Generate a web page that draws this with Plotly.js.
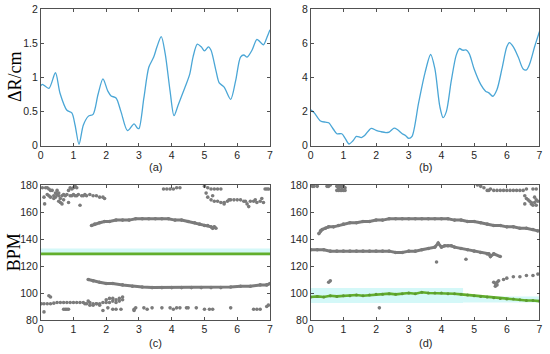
<!DOCTYPE html>
<html><head><meta charset="utf-8">
<script src="https://cdn.plot.ly/plotly-3.0.1.min.js"></script>
<style>html,body{margin:0;padding:0;background:#fff}#c{width:550px;height:354px}</style>
</head><body><div id="c"></div>
<script>
// (a) displacement
const tA = [0,0.05,0.25,0.45,0.59,0.8,0.95,1.05,1.17,1.3,1.45,1.6,1.75,1.9,2.05,2.15,2.3,2.45,2.65,2.85,2.95,3.0,3.15,3.3,3.45,3.55,3.68,3.8,3.95,4.07,4.2,4.4,4.55,4.65,4.78,4.9,5.0,5.12,5.2,5.35,5.45,5.6,5.8,5.95,6.1,6.2,6.3,6.45,6.6,6.7,6.8,6.9,7.0];
const rA = [0.875,0.9,0.84,1.07,0.77,0.52,0.48,0.3,0.02,0.3,0.43,0.46,0.75,0.98,0.8,0.73,0.7,0.5,0.22,0.32,0.26,0.25,0.7,1.15,1.3,1.45,1.6,1.35,0.8,0.44,0.6,0.85,1.05,1.3,1.49,1.45,1.39,1.45,1.4,1.1,0.92,0.86,0.68,0.95,1.3,1.33,1.3,1.4,1.56,1.52,1.48,1.58,1.7];
// (b) displacement
const tB = [0,0.1,0.3,0.45,0.55,0.7,0.8,0.95,1.05,1.17,1.3,1.4,1.55,1.65,1.85,2.0,2.15,2.3,2.4,2.55,2.65,2.8,2.9,3.0,3.1,3.3,3.5,3.67,3.8,3.95,4.05,4.15,4.3,4.45,4.55,4.65,4.75,4.85,5.0,5.2,5.35,5.45,5.57,5.7,5.85,6.0,6.08,6.2,6.35,6.5,6.6,6.7,6.85,7.0];
const rB = [2.1,1.95,1.45,1.38,1.35,0.95,0.7,0.7,0.45,0.1,0.3,0.55,0.48,0.6,1.02,0.9,0.82,0.77,0.8,1.03,0.95,0.7,0.6,0.43,0.55,2.5,4.3,5.35,4.5,2.3,1.65,2.0,3.8,5.3,5.7,5.6,5.62,5.4,4.5,3.6,3.2,3.1,2.9,3.3,4.5,5.8,6.05,5.8,5.2,4.5,4.45,4.8,5.8,6.7];

// (c) candidate heart-rate points
const cT = [0.05,0.1,0.12,0.2,0.25,0.3,0.35,0.4,0.45,0.5,0.55,0.6,0.55,0.6,0.65,0.7,0.7,0.75,0.8,0.85,0.9,0.95,1.0,1.05,1.1,0.9,0.95,1.0,1.05,1.1,1.15,1.2,1.25,1.3,1.35,1.4,1.5,1.6,1.7,1.8,1.9,1.95,0.85,0.4,0.45,0.5,0.55,0.65,0.3,0.25,0.2,0.15,
 3.75,3.85,3.95,4.05,4.15,4.25,
 5.0,5.1,5.2,5.3,5.4,5.5,5.05,5.1,5.2,5.3,5.4,5.5,5.6,5.6,5.7,5.8,5.9,6.0,6.1,6.2,6.3,6.35,6.4,6.5,6.6,6.7,6.75,6.8,6.85,6.9,6.95,5.25,5.75,6.25,6.55,
 0.02,0.1,0.2,0.3,0.4,0.5,0.6,0.7,0.8,0.9,1.0,1.1,1.2,1.3,1.4,1.5,1.6,1.7,1.8,1.9,2.0,2.1,2.2,2.3,2.4,2.5,2.2,2.0,2.1,2.3,2.4,2.5,1.5,1.6,1.7,1.8,0.25,0.3,0.1,0.7,0.75,0.8,0.85,1.9,2.05,2.2,2.3,2.45,1.45,1.35,
 2.85,2.9,3.15,3.25,3.4,3.7,3.95,4.05,4.15,4.25,4.45,4.5,4.75,5.0,5.15,5.25,5.8,6.5,6.6,6.7,6.9,6.95,2.85];
const cBPM = [178,171,166,178,177,176,176,172,171,173,174,170,168,167,166,169,173,172,173,176,178,177,178,179,178,172,172,173,172,172,173,165,172,172,173,172,173,172,172,171,171,170,167,170,174,176,172,172,171,172,173,178,
 177,177,177,177,178,178,
 179,178,177,177,177,177,174,171,169,168,168,167,167,166,168,169,169,169,169,168,166,164,168,168,167,168,170,167,177,177,177,172,169,168,169,
 92,92,92,92,92.5,93,93,93,93,93,93,93,93,93,92,93,92,92,92,93,93,93,94,95,96,97,96,95,96,93,94,95,91,91,92,91,98,97,86,88,88,88,88,87,89,88,88,88,94,92,
 88,89,89,88,89,89,89,88,89,89,89,89,89,88,88,88,89,88,88,88,90,91,87];
const cArcHiT = [1.55,1.65,1.8,1.95,2.1,2.3,2.5,2.7,2.9,3.1,3.3,3.5,3.7,3.9,4.1,4.3,4.5,4.7,4.85,5.0,5.1,5.2,5.25,5.3,5.35];
const cArcHi = [150,151,152,153,153,154,154,154,155,155,155,155,155,155,154,154,153,152,151,150,150,149,148,149,148];
const cArcLoT = [1.45,1.6,1.8,2.0,2.2,2.5,2.8,3.1,3.4,3.7,4.0,4.3,4.6,4.9,5.2,5.5,5.8,6.1,6.4,6.7,6.9,7.0];
const cArcLo = [110,109,108,107,107,106,105,104.5,104,104,104,104,104,104,104,104,104.5,105,105,106,106,107];
const cTrackT = [0,0.5,1,1.5,2,2.5,3,3.5,4,4.5,5,5.5,6,6.5,7];
const cTrack = [129,129,129,129.2,128.8,129,128.9,129,128.8,129,129.2,129,129.1,129,129];
const cBand = [128, 133];

// (d) candidate heart-rate points
const dT = [0.0,0.05,0.1,0.2,0.5,0.55,0.6,0.8,0.85,0.9,0.95,1.0,1.05,0.8,0.85,0.9,0.95,1.0,1.05,0.85,0.95,
 5.1,5.2,5.3,5.4,5.45,5.5,5.6,5.7,5.8,5.9,6.0,6.1,6.2,6.3,6.4,6.5,6.6,6.8,6.9,6.55,6.6,6.65,6.7,6.75,6.8,6.85,6.9,6.95,6.85,6.55,6.75,6.9,
 3.85,4.75,0.55,0.6,2.1,
 5.65,5.65,5.7,5.7,5.75,5.9,6.0,6.2,6.4,6.6,6.8,6.95,5.6];
const dBPM = [180,179,179,179,179,179,180,179,180,179,180,179,178,176,176,176,176,176,176,178,178,
 180,179,178,176,176,177,176,176,176,176,176,176,176,176,176,176,177,177,177,172,170,169,168,166,165,167,169,168,171,166,167,165,
 123,125,108,109,89,
 105,107,108,106,109,110,111,112,112,113,113,114,108];
const dArcHiT = [0.25,0.3,0.35,0.45,0.55,0.7,0.85,1.0,1.2,1.4,1.6,1.8,2.0,2.2,2.4,2.6,2.8,3.0,3.2,3.4,3.6,3.8,4.0,4.2,4.4,4.6,4.8,5.0,5.2,5.4,5.6,5.8,6.0,6.2,6.4,6.6,6.8,6.95];
const dArcHi = [144,146,147,148,149,149,150,151,152,152,153,153,154,154,155,155,155,155,155,155,155,155,155,155,154,154,153,153,152,151,150,150,149,149,148,148,147,146];
const dArcMidT = [0.0,0.2,0.4,0.6,0.8,1.0,1.2,1.4,1.6,1.8,2.0,2.2,2.4,2.6,2.8,3.0,3.2,3.4,3.6,3.8,3.9,4.0,4.1,4.2,4.3,4.4,4.6,4.8,5.0,5.2,5.4,5.45,5.5,5.6,5.8];
const dArcMid = [132,132,132,131,131,131,131,131,131,131,131,131,131,130,130,131,131,132,133,134,137,134,135,135,135,134,133,132,131,130,129,129,127,129,127];
const dTrackT = [0,0.2,0.4,0.6,0.8,1.0,1.2,1.4,1.6,1.8,2.0,2.2,2.4,2.6,2.8,3.0,3.2,3.4,3.6,3.8,4.0,4.2,4.4,4.6,4.8,5.0,5.2,5.4,5.6,5.8,6.0,6.2,6.4,6.6,6.8,7.0];
const dTrack = [97,97.5,97,98,97.5,98,98,98.5,98,98.5,99,99,99.5,99,99.5,100,99.5,100.5,100,100,100,99.5,99.5,99,98.5,98,97.5,97,96.5,96,95.5,95.5,95,94.5,94.5,94];
const dBandT = [-0.2, 4.66, 7.2];
const dBandLo = [92.6, 93];
const dBandHi = [103.7, 97.5];

const xTicks = [0,1,2,3,4,5,6,7];

const grey = '#7b7b7b';
const blue = '#4aa6d6';
const green = '#62ae2c';
const band = 'rgba(205,247,247,0.85)';

function sc(x, y, xa, ya, lines) {
  return {x: x, y: y, xaxis: xa, yaxis: ya, type: 'scatter',
    mode: lines ? 'lines+markers' : 'markers',
    line: {color: grey, width: 3},
    marker: {color: grey, size: 3.6}, hoverinfo: 'skip', showlegend: false};
}

const data = [
  {x: tA, y: rA, xaxis: 'x', yaxis: 'y', type: 'scatter', mode: 'lines', line: {color: blue, width: 1.3, shape: 'spline', smoothing: 0.8}, showlegend: false},
  {x: tB, y: rB, xaxis: 'x2', yaxis: 'y2', type: 'scatter', mode: 'lines', line: {color: blue, width: 1.3, shape: 'spline', smoothing: 0.8}, showlegend: false},
  sc(cT, cBPM, 'x3', 'y3', false),
  sc(cArcHiT, cArcHi, 'x3', 'y3', true),
  sc(cArcLoT, cArcLo, 'x3', 'y3', true),
  {x: cTrackT, y: cTrack, xaxis: 'x3', yaxis: 'y3', type: 'scatter', mode: 'lines', line: {color: green, width: 2.6}, showlegend: false},
  sc(dT, dBPM, 'x4', 'y4', false),
  sc(dArcHiT, dArcHi, 'x4', 'y4', true),
  sc(dArcMidT, dArcMid, 'x4', 'y4', true),
  {x: dTrackT, y: dTrack, xaxis: 'x4', yaxis: 'y4', type: 'scatter', mode: 'lines+markers', line: {color: green, width: 2.6}, marker: {color: '#5c9a30', size: 3}, showlegend: false}
];

const tickFont = {family: 'Arial, Liberation Sans, sans-serif', size: 10.5, color: '#262626'};
function ax(domain, range, dtick, anchor) {
  return {domain: domain, range: range, dtick: dtick, tick0: 0, anchor: anchor,
    showgrid: false, zeroline: false, showline: true, mirror: 'ticks',
    linecolor: '#262626', linewidth: 0.8, ticks: 'inside', ticklen: 3,
    tickcolor: '#262626', tickwidth: 0.8, tickfont: tickFont, fixedrange: true};
}

const shapes = [
  {type: 'rect', xref: 'x3', yref: 'y3', x0: -0.2, x1: 7.2, y0: cBand[0], y1: cBand[1], fillcolor: band, line: {width: 0}, layer: 'below'},
  {type: 'rect', xref: 'x4', yref: 'y4', x0: dBandT[0], x1: dBandT[1], y0: dBandLo[0], y1: dBandHi[0], fillcolor: band, line: {width: 0}, layer: 'below'},
  {type: 'rect', xref: 'x4', yref: 'y4', x0: dBandT[1], x1: dBandT[2], y0: dBandLo[1], y1: dBandHi[1], fillcolor: band, line: {width: 0}, layer: 'below'}
];

const serif = {family: 'Liberation Serif, Times New Roman, serif', size: 18, color: '#000'};
const lab = {family: 'Arial, Liberation Sans, sans-serif', size: 11, color: '#262626'};
function note(text, x, y, font, angle) {
  return {text: text, xref: 'paper', yref: 'paper', x: x, y: y, textangle: angle || 0,
    showarrow: false, font: font, xanchor: 'center', yanchor: 'middle'};
}
const annotations = [
  note('ΔR/cm', 0.027, 0.785, serif, -90),
  note('BPM', 0.027, 0.287, serif, -90),
  note('(a)', 155/550, 1 - 167/354, lab),
  note('(b)', 425/550, 1 - 167/354, lab),
  note('(c)', 155/550, 1 - 343/354, lab),
  note('(d)', 425/550, 1 - 343/354, lab)
];

const xDomL = [40.7/550, 270/550];
const xDomR = [310.7/550, 539.5/550];
const yDomT = [(354-145.7)/354, (354-9.3)/354];
const yDomB = [(354-320)/354, (354-185)/354];

const layout = {
  width: 550, height: 354, margin: {l: 0, r: 0, t: 0, b: 0},
  paper_bgcolor: '#fff', plot_bgcolor: 'rgba(0,0,0,0)', showlegend: false,
  xaxis: Object.assign(ax(xDomL, [0, 7], 1, 'y'), {tickvals: xTicks}),
  yaxis: ax(yDomT, [0, 2], 0.5, 'x'),
  xaxis2: Object.assign(ax(xDomR, [0, 7], 1, 'y2'), {tickvals: xTicks}),
  yaxis2: ax(yDomT, [0, 8], 2, 'x2'),
  xaxis3: Object.assign(ax(xDomL, [0, 7], 1, 'y3'), {tickvals: xTicks}),
  yaxis3: ax(yDomB, [80, 180], 20, 'x3'),
  xaxis4: Object.assign(ax(xDomR, [0, 7], 1, 'y4'), {tickvals: xTicks}),
  yaxis4: ax(yDomB, [80, 180], 20, 'x4'),
  shapes: shapes, annotations: annotations
};

Plotly.newPlot('c', data, layout, {displayModeBar: false, staticPlot: true});
</script>
</body></html>
